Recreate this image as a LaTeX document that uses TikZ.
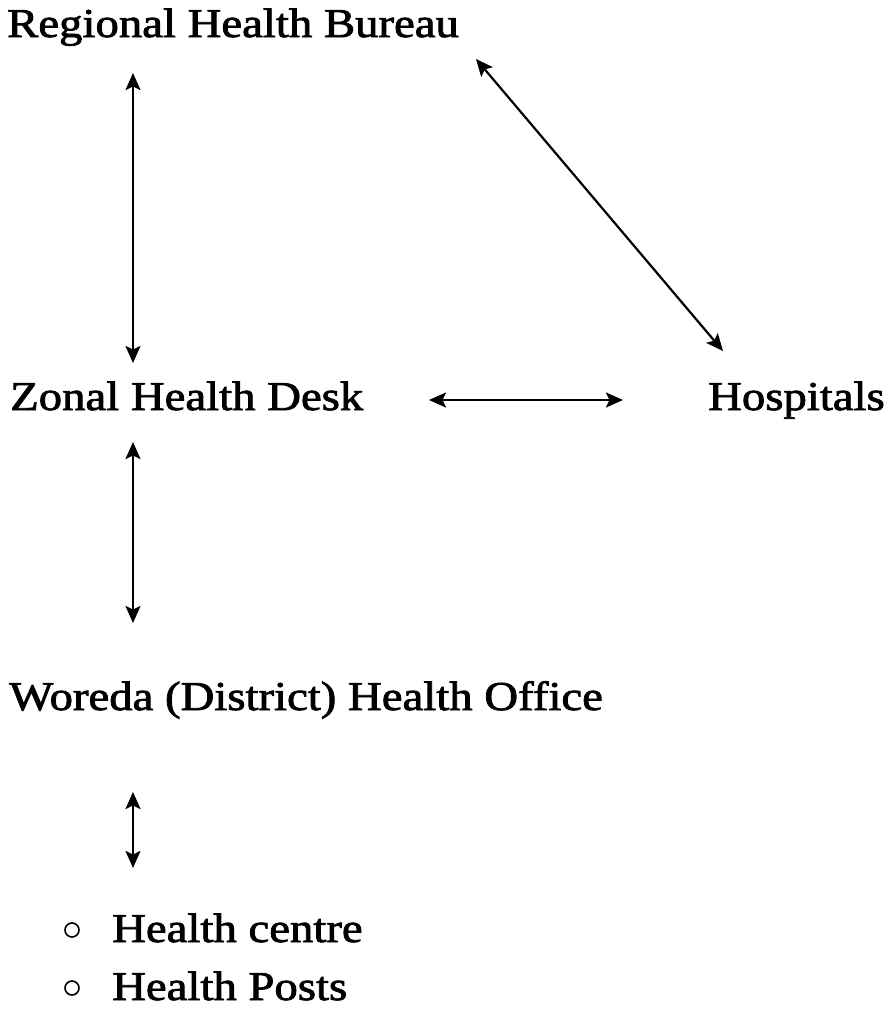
\documentclass[tikz,border=0pt]{standalone}
\usepackage{fontspec}
\setmainfont{Liberation Serif}
\newfontfamily\heavyserif[FakeBold=1.8]{Liberation Serif}
\usetikzlibrary{arrows.meta}
\newcommand\hwide[1]{\scalebox{1.14}[1]{#1}}
\begin{document}
\begin{tikzpicture}[x=1pt,y=-1pt,
  lbl/.style={inner sep=0pt, anchor=base west, font=\fontsize{41}{46}\heavyserif},
  arr/.style={{Stealth[length=17pt,width=15pt,inset=3.5pt]}-{Stealth[length=17pt,width=15pt,inset=3.5pt]}, line width=2.2pt},
  bullet/.style={circle, draw, line width=1.6pt, minimum size=14pt, inner sep=0pt}]
\useasboundingbox (0,0) rectangle (890,1021);

% organisational levels
\node[lbl] (reg)  at (7,37)    {\hwide{Regional Health Bureau}};
\node[lbl] (zon)  at (10,410)  {\hwide{Zonal Health Desk}};
\node[lbl] (hosp) at (708,410) {\hwide{Hospitals}};
\node[lbl] (wor)  at (9,710)   {\hwide{Woreda (District) Health Office}};
\node[lbl] (hc)   at (112,942) {\hwide{Health centre}};
\node[lbl] (hp)   at (112,1000) {\hwide{Health Posts}};
\node[bullet] (b1) at (72,930) {};
\node[bullet] (b2) at (72,988) {};

% arrow end points
\coordinate (r1) at (133,73);
\coordinate (z1) at (133,363);
\coordinate (z2) at (133,442);
\coordinate (w1) at (133,623);
\coordinate (w2) at (133,792);
\coordinate (h1) at (133,868);
\coordinate (zr) at (429,400);
\coordinate (hl) at (623,400);
\coordinate (rd) at (476,59);
\coordinate (hd) at (723,351);

% links between levels
\draw[arr] (r1) -- (z1);
\draw[arr] (z2) -- (w1);
\draw[arr] (w2) -- (h1);
\draw[arr] (zr) -- (hl);
\draw[arr] (rd) -- (hd);
\end{tikzpicture}
\end{document}
